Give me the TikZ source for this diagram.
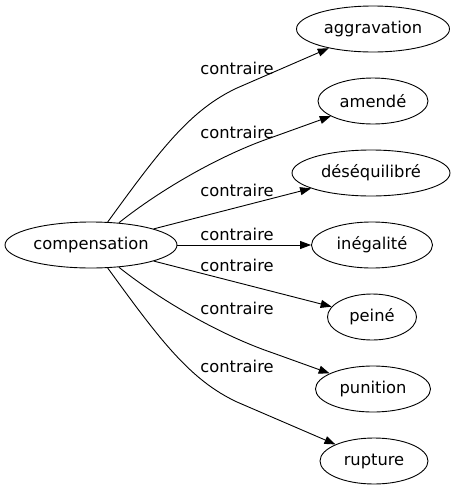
\documentclass[tikz,border=0pt]{standalone}
\usepackage{fontspec}
\setmainfont{DejaVu Sans}
\usetikzlibrary{shapes.geometric,arrows.meta}
\begin{document}
\begin{tikzpicture}[x=1pt,y=-1pt,
  font=\fontsize{16.3}{19}\selectfont,
  word/.style={ellipse, draw, line width=0.9pt, inner sep=0pt, minimum height=46pt},
  rel/.style={-{Triangle[length=11pt,width=8pt]}, line width=0.9pt},
  lab/.style={inner sep=0pt}]
\useasboundingbox (0,0) rectangle (458,491);
\node[word, minimum width=172pt] (comp) at (91,245) {compensation};
\node[word, minimum width=153pt] (agg) at (373,29) {aggravation};
\node[word, minimum width=110pt] (amen) at (373,101) {amendé};
\node[word, minimum width=158pt] (deseq) at (371,173) {déséquilibré};
\node[word, minimum width=121pt] (ineg) at (372,245) {inégalité};
\node[word, minimum width=89pt] (peine) at (372,317) {peiné};
\node[word, minimum width=115pt] (pun) at (373,389) {punition};
\node[word, minimum width=108pt] (rup) at (374,461) {rupture};
\node[lab] (l1) at (237,68) {contraire};
\node[lab] (l2) at (237,132) {contraire};
\node[lab] (l3) at (237,190) {contraire};
\node[lab] (l4) at (237,234) {contraire};
\node[lab] (l5) at (237,265) {contraire};
\node[lab] (l6) at (237,308) {contraire};
\node[lab] (l7) at (237,366) {contraire};
\draw[rel] (comp) .. controls (160,150) and (190,110) .. (237,88) -- (agg);
\draw[rel] (comp) .. controls (160,190) and (220,155) .. (273,137) -- (amen);
\draw[rel] (comp) -- (deseq);
\draw[rel] (comp) -- (ineg);
\draw[rel] (comp) -- (peine);
\draw[rel] (comp) .. controls (160,300) and (220,335) .. (273,353) -- (pun);
\draw[rel] (comp) .. controls (160,340) and (190,380) .. (237,402) -- (rup);
\end{tikzpicture}
\end{document}
